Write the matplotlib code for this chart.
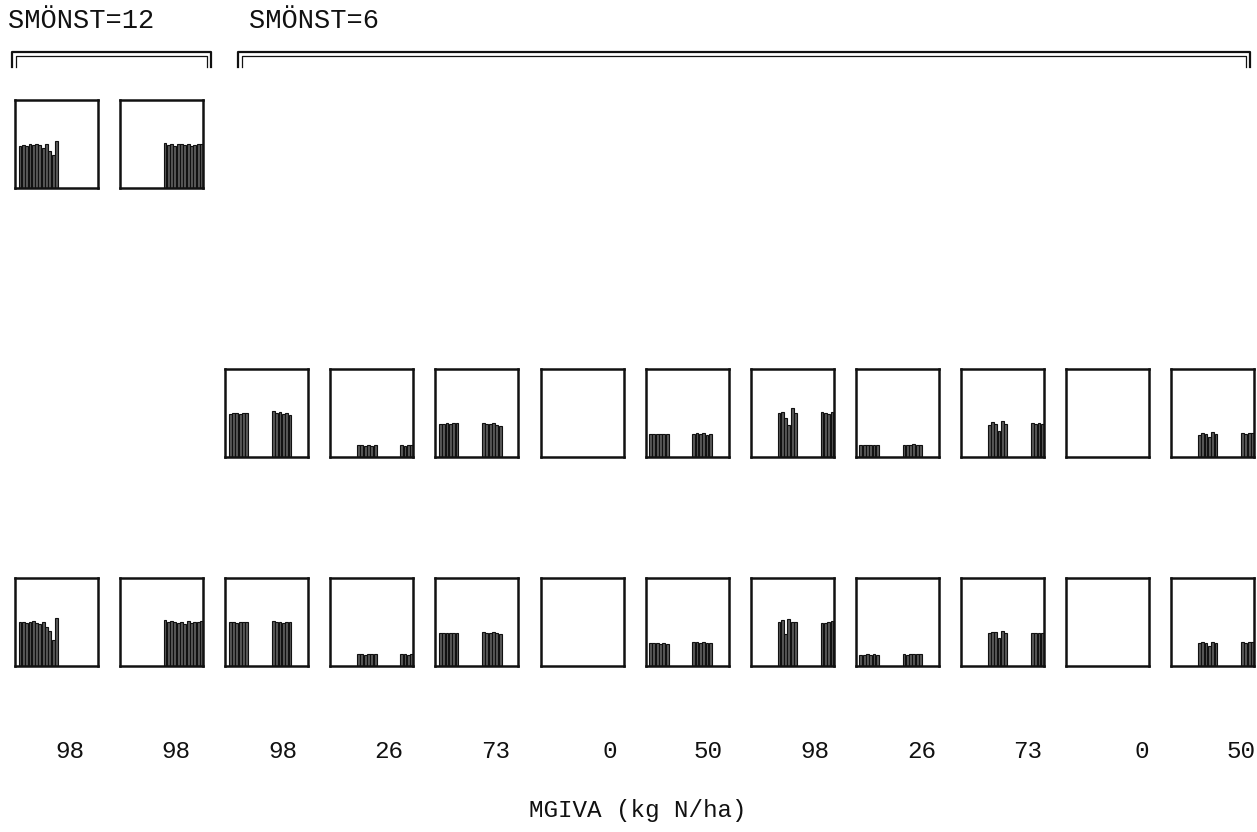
import matplotlib
matplotlib.use("Agg")
import matplotlib.pyplot as plt
from matplotlib.lines import Line2D

FIG_W, FIG_H = 1257, 832

# N-giva per column and sampling pattern (SMÖNST)
MGIVA = [98, 98, 98, 26, 73, 0, 50, 98, 26, 73, 0, 50]
SMONST = [12, 12, 6, 6, 6, 6, 6, 6, 6, 6, 6, 6]
# first time slot of each column's sampling series
START_SLOT = [1, 13, 1, 8, 1, 8, 1, 8, 1, 8, 1, 8]
CLUSTER_GAP = 13
N_SLOTS = 25

# relative heights per time slot, top row (only SMÖNST=12 columns)
TOP_ROW = {
    0: [0.48, 0.49, 0.48, 0.50, 0.49, 0.50, 0.49, 0.46, 0.50, 0.42, 0.38, 0.53],
    1: [0.51, 0.49, 0.50, 0.48, 0.50, 0.50, 0.49, 0.50, 0.48, 0.49, 0.50, 0.50],
}

# middle row, SMÖNST=6 columns: 6 + 6 values
MID_ROW = {
    2: [0.49, 0.50, 0.50, 0.49, 0.50, 0.50, 0.52, 0.50, 0.51, 0.49, 0.50, 0.48],
    3: [0.14, 0.14, 0.12, 0.14, 0.13, 0.14, 0.14, 0.13, 0.14, 0.14, 0.14, 0.14],
    4: [0.38, 0.38, 0.39, 0.38, 0.39, 0.39, 0.39, 0.38, 0.37, 0.39, 0.36, 0.35],
    5: [0, 0, 0, 0, 0, 0, 0, 0, 0, 0, 0, 0],
    6: [0.26, 0.26, 0.26, 0.26, 0.26, 0.26, 0.26, 0.27, 0.26, 0.27, 0.25, 0.26],
    7: [0.50, 0.51, 0.44, 0.36, 0.56, 0.50, 0.51, 0.50, 0.49, 0.51, 0.50, 0.52],
    8: [0.14, 0.14, 0.14, 0.14, 0.14, 0.14, 0.14, 0.14, 0.14, 0.15, 0.14, 0.14],
    9: [0.36, 0.40, 0.37, 0.30, 0.41, 0.38, 0.39, 0.37, 0.39, 0.38, 0.39, 0.39],
    10: [0, 0, 0, 0, 0, 0, 0, 0, 0, 0, 0, 0],
    11: [0.25, 0.27, 0.26, 0.23, 0.28, 0.26, 0.27, 0.26, 0.27, 0.27, 0.27, 0.27],
}

# bottom row, all columns
LOW_ROW = {
    0: [0.50, 0.50, 0.49, 0.50, 0.51, 0.49, 0.48, 0.50, 0.44, 0.40, 0.30, 0.54],
    1: [0.52, 0.50, 0.51, 0.50, 0.49, 0.50, 0.48, 0.51, 0.49, 0.50, 0.50, 0.51],
    2: [0.50, 0.50, 0.49, 0.50, 0.50, 0.50, 0.51, 0.50, 0.50, 0.49, 0.50, 0.50],
    3: [0.14, 0.14, 0.12, 0.14, 0.14, 0.14, 0.14, 0.14, 0.13, 0.14, 0.14, 0.14],
    4: [0.37, 0.38, 0.38, 0.37, 0.38, 0.38, 0.39, 0.38, 0.38, 0.39, 0.37, 0.36],
    5: [0, 0, 0, 0, 0, 0, 0, 0, 0, 0, 0, 0],
    6: [0.26, 0.26, 0.26, 0.25, 0.26, 0.25, 0.27, 0.27, 0.26, 0.27, 0.26, 0.26],
    7: [0.50, 0.52, 0.36, 0.53, 0.50, 0.50, 0.49, 0.49, 0.50, 0.51, 0.50, 0.52],
    8: [0.13, 0.13, 0.14, 0.13, 0.14, 0.13, 0.14, 0.13, 0.14, 0.14, 0.14, 0.14],
    9: [0.38, 0.39, 0.39, 0.32, 0.40, 0.38, 0.38, 0.37, 0.38, 0.38, 0.38, 0.39],
    10: [0, 0, 0, 0, 0, 0, 0, 0, 0, 0, 0, 0],
    11: [0.26, 0.27, 0.26, 0.23, 0.27, 0.26, 0.27, 0.26, 0.27, 0.27, 0.27, 0.28],
}

GROUPS = [("SMÖNST=12", 0, 1), ("SMÖNST=6", 2, 11)]
X_LABEL = "MGIVA (kg N/ha)"

FONT = ["Liberation Mono", "DejaVu Sans Mono"]
INK = "#111111"

# layout in pixels
BOX_LEFT0 = 15
BOX_STEP = 105.1
BOX_W = 83
BOX_H = 88
ROW_TOPS = {"top": 100, "mid": 369, "low": 578}


def fig_rect(left, top, width, height):
    return [left / FIG_W, 1 - (top + height) / FIG_H, width / FIG_W, height / FIG_H]


def slot_positions(col):
    start = START_SLOT[col]
    if SMONST[col] == 12:
        return [start + 0.5 + i for i in range(12)]
    first = [start + 0.5 + i for i in range(6)]
    second = [start + CLUSTER_GAP + 0.5 + i for i in range(6)]
    return first + second


def draw_box(fig, col, row_top, heights):
    left = BOX_LEFT0 + BOX_STEP * col
    ax = fig.add_axes(fig_rect(left, row_top, BOX_W, BOX_H))
    xs = slot_positions(col)
    for x, h in zip(xs, heights):
        if h <= 0:
            continue
        ax.bar(x, h, width=0.85, color="#5a5a5a", edgecolor=INK,
               linewidth=0.8, align="center")
    ax.set_xlim(0, N_SLOTS)
    ax.set_ylim(0, 1)
    ax.set_xticks([])
    ax.set_yticks([])
    for spine in ax.spines.values():
        spine.set_linewidth(1.8)
        spine.set_color(INK)
    return ax


def bracket(fig, x0, x1, top, depth):
    # double-ruled bracket as printed by the line printer
    def px(xs, ys):
        return [x / FIG_W for x in xs], [1 - y / FIG_H for y in ys]

    xs, ys = px([x0, x0, x1, x1], [top + depth, top, top, top + depth])
    fig.add_artist(Line2D(xs, ys, color=INK, linewidth=1.6))
    xs, ys = px([x0 + 4, x0 + 4, x1 - 4, x1 - 4],
                [top + depth, top + 4, top + 4, top + depth])
    fig.add_artist(Line2D(xs, ys, color=INK, linewidth=0.9))


def main():
    fig = plt.figure(figsize=(FIG_W / 100, FIG_H / 100), dpi=100)
    fig.patch.set_facecolor("white")

    for col, heights in TOP_ROW.items():
        draw_box(fig, col, ROW_TOPS["top"], heights)
    for col, heights in MID_ROW.items():
        draw_box(fig, col, ROW_TOPS["mid"], heights)
    for col, heights in LOW_ROW.items():
        draw_box(fig, col, ROW_TOPS["low"], heights)

    # group headers with brackets
    header_x = {0: 8, 2: 249}
    bracket_span = {0: (12, 211), 2: (238, 1250)}
    for title, first, last in GROUPS:
        fig.text(header_x[first] / FIG_W, 1 - 21 / FIG_H, title,
                 family=FONT, fontsize=19.5, color=INK, ha="left", va="center")
        x0, x1 = bracket_span[first]
        bracket(fig, x0, x1, 52, 15)

    # MGIVA value under each column (right-aligned, fixed pitch)
    for i, value in enumerate(MGIVA):
        x_right = 84 + 106.5 * i
        fig.text(x_right / FIG_W, 1 - 752 / FIG_H, str(value),
                 family=FONT, fontsize=17.5, color=INK, ha="right", va="center")

    fig.text(638 / FIG_W, 1 - 811 / FIG_H, X_LABEL,
             family=FONT, fontsize=17.5, color=INK, ha="center", va="center")

    fig.savefig("out.png", dpi=100)
    plt.close(fig)


if __name__ == "__main__":
    main()
